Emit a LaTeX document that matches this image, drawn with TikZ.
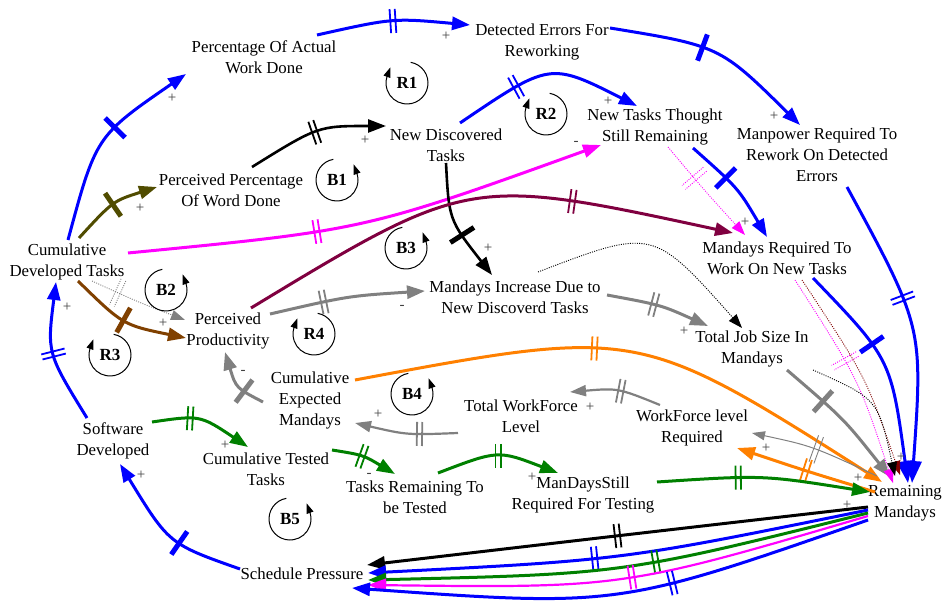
\documentclass[tikz,border=0pt]{standalone}
\usepackage{fontspec}
\setmainfont{Liberation Serif}
\usetikzlibrary{arrows.meta,decorations.markings}
\definecolor{cBlue}{RGB}{0,0,255}
\definecolor{cOlive}{RGB}{80,76,0}
\definecolor{cMag}{RGB}{255,0,255}
\definecolor{cMaroon}{RGB}{128,0,64}
\definecolor{cGray}{RGB}{128,128,128}
\definecolor{cBrown}{RGB}{128,64,0}
\definecolor{cOrange}{RGB}{255,128,0}
\definecolor{cGreen}{RGB}{0,128,0}
\definecolor{cDkRed}{RGB}{128,0,0}
\definecolor{cSign}{RGB}{64,64,64}
\begin{document}
\begin{tikzpicture}[x=1pt, y=-1pt,
  lbl/.style={align=center, inner sep=1pt, font=\fontsize{16.8}{21}\selectfont},
  sgn/.style={text=cSign, inner sep=0pt, font=\fontsize{15}{15}\selectfont},
  lid/.style={inner sep=0pt, font=\fontsize{17}{17}\selectfont\bfseries},
  lnk/.style={line width=3pt, -{Triangle[length=18pt,width=13pt]}},
  mlnk/.style={line width=2.2pt, -{Triangle[length=16pt,width=11pt]}},
  hlnk/.style={line width=1pt, -{Triangle[length=13pt,width=9pt]}},
  dlnk/.style={line width=0.9pt, dash pattern=on 1pt off 1.3pt, -{Triangle[length=14pt,width=10pt]}},
  dly/.style={postaction={decorate, decoration={markings, mark=at position #1 with {\draw[-, line width=1.8pt] (-2.6,-12) -- (-2.6,12) (2.6,-12) -- (2.6,12);}}}},
  hdly/.style={postaction={decorate, decoration={markings, mark=at position #1 with {\draw[-, line width=0.9pt] (-2.6,-14) -- (-2.6,14) (2.6,-14) -- (2.6,14);}}}},
  sbar/.style={postaction={decorate, decoration={markings, mark=at position #1 with {\draw[-, line width=5pt] (0,-14) -- (0,14);}}}},
  ring/.style={line width=1pt, black},
  ringtip/.style={line width=1pt, black, -{Triangle[length=10pt,width=7pt]}},
]
\useasboundingbox (0,0) rectangle (942,609);

% ---- variables ----
\node[lbl] (pawd) at (264,57) {Percentage Of Actual\\Work Done};
\node[lbl] (defr) at (542,42) {Detected Errors For\\Reworking};
\node[lbl] (ndt) at (446,145) {New Discovered\\Tasks};
\node[lbl] (nttsr) at (655,127) {New Tasks Thought\\Still Remaining};
\node[lbl] (mrrde) at (817,155) {Manpower Required To\\Rework On Detected\\Errors};
\node[lbl] (ppwd) at (231,190) {Perceived Percentage\\Of Word Done};
\node[lbl] (cdt) at (67,262) {Cumulative\\Developed Tasks};
\node[lbl] (mrwnt) at (777,258) {Mandays Required To\\Work On New Tasks};
\node[lbl] (midnt) at (515,297) {Mandays Increase Due to\\New Discoverd Tasks};
\node[lbl] (pp) at (228,331) {Perceived\\Productivity};
\node[lbl] (tjsm) at (752,349) {Total Job Size In\\Mandays};
\node[lbl] (cem) at (310,400) {Cumulative\\Expected\\Mandays};
\node[lbl] (twl) at (521,416) {Total WorkForce\\Level};
\node[lbl] (wlr) at (692,428) {WorkForce level\\Required};
\node[lbl] (sd) at (113,441) {Software\\Developed};
\node[lbl] (ctt) at (266,469) {Cumulative Tested\\Tasks};
\node[lbl] (trtbt) at (415,497) {Tasks Remaining To\\be Tested};
\node[lbl] (mdsrft) at (583,495) {ManDaysStill\\Required For Testing};
\node[lbl] (rm) at (905,503) {Remaining\\Mandays};
\node[lbl] (sp) at (302,574) {Schedule Pressure};

% ---- causal links ----
\draw[lnk, cBlue, sbar=0.58] ([shift={(1,-22)}]cdt.center) .. controls (96,136) .. ([shift={(-78,17)}]pawd.center);
\draw[lnk, cBlue, dly=0.5] ([shift={(53,-22)}]pawd.center) .. controls (393,18) .. ([shift={(-72,-17)}]defr.center);
\draw[lnk, cBlue, sbar=0.43] ([shift={(68,-14)}]defr.center) .. controls (720,46) .. ([shift={(-17,-30)}]mrrde.center);
\draw[lnk, cBlue, dly=0.34] ([shift={(14,-22)}]ndt.center) .. controls (550,62) .. ([shift={(-18,-21)}]nttsr.center);
\draw[lnk, black, line width=2.6pt, dly=0.5] ([shift={(21,-23)}]ppwd.center) .. controls (318,126) .. ([shift={(-60,-19)}]ndt.center);
\draw[lnk, cOlive, sbar=0.5] ([shift={(12,-24)}]cdt.center) .. controls (113,201) .. ([shift={(-74,-3)}]ppwd.center);
\draw[lnk, cMag, dly=0.39] ([shift={(61,-9)}]cdt.center) .. controls (365,230) .. ([shift={(-54,18)}]nttsr.center);
\draw[lnk, black, line width=2.6pt, sbar=0.6] ([shift={(0,18)}]ndt.center) .. controls (449,220) .. ([shift={(-23,-22)}]midnt.center);
\draw[lnk, cMaroon, dly=0.68] ([shift={(23,-23)}]pp.center) .. controls (469,176) .. ([shift={(-44,-25)}]mrwnt.center);
\draw[lnk, cBlue, sbar=0.38] ([shift={(38,21)}]nttsr.center) .. controls (738,188) .. ([shift={(-10,-21)}]mrwnt.center);
\draw[dlnk, cMag, hdly=0.35] ([shift={(13,20)}]nttsr.center) .. controls (704,190) .. ([shift={(-32,-23)}]mrwnt.center);
\draw[lnk, cBlue, dly=0.4, -{Triangle[length=22pt,width=16pt]}] ([shift={(30,32)}]mrrde.center) .. controls (923,327) .. ([shift={(7,-20)}]rm.center);
\draw[lnk, cBlue, sbar=0.38, -{Triangle[length=22pt,width=16pt]}] ([shift={(36,20)}]mrwnt.center) .. controls (891,359) .. ([shift={(3,-20)}]rm.center);
\draw[lnk, cGray, dly=0.45] ([shift={(92,-2)}]midnt.center) .. controls (661,305) .. ([shift={(-44,-23)}]tjsm.center);
\draw[dlnk, black] ([shift={(23,-25)}]midnt.center) .. controls (653,228) .. ([shift={(-10,-21)}]tjsm.center);
\draw[lnk, cGray, dly=0.35] ([shift={(42,-17)}]pp.center) .. controls (348,296) .. ([shift={(-90,-6)}]midnt.center);
\draw[dlnk, cGray, hdly=0.28] ([shift={(25,19)}]cdt.center) .. controls (138,302) .. ([shift={(-43,-11)}]pp.center);
\draw[lnk, cBrown, sbar=0.48] ([shift={(11,19)}]cdt.center) .. controls (123,325) .. ([shift={(-42,7)}]pp.center);
\draw[lnk, cGray, sbar=0.33] ([shift={(-47,2)}]cem.center) .. controls (236,388) .. ([shift={(-3,21)}]pp.center);
\draw[lnk, cOrange, dly=0.43] ([shift={(45,-20)}]cem.center) .. controls (638,327) .. ([shift={(-23,-21)}]rm.center);
\draw[lnk, cOrange, dly=0.5] ([shift={(-30,-11)}]rm.center) .. controls (806,471) .. ([shift={(45,20)}]wlr.center);
\draw[hlnk, cGray, hdly=0.5] ([shift={(-28,-27)}]rm.center) .. controls (812,446) .. ([shift={(60,5)}]wlr.center);
\draw[lnk, cGray, sbar=0.32] ([shift={(35,21)}]tjsm.center) .. controls (844,419) .. ([shift={(-15,-26)}]rm.center);
\draw[mlnk, cGray, dly=0.45] ([shift={(-32,-23)}]wlr.center) .. controls (618,388) .. ([shift={(49,-24)}]twl.center);
\draw[mlnk, cGray, dly=0.37] ([shift={(-63,17)}]twl.center) .. controls (407,435) .. ([shift={(45,23)}]cem.center);
\draw[lnk, cGreen, dly=0.37] ([shift={(39,-19)}]sd.center) .. controls (200,415) .. ([shift={(-18,-22)}]ctt.center);
\draw[lnk, cGreen, dly=0.45] ([shift={(66,-19)}]ctt.center) .. controls (363,455) .. ([shift={(-20,-23)}]trtbt.center);
\draw[lnk, cGreen, dly=0.5] ([shift={(23,-24)}]trtbt.center) .. controls (498,450) .. ([shift={(-25,-22)}]mdsrft.center);
\draw[lnk, cGreen, dly=0.38] ([shift={(74,-13)}]mdsrft.center) .. controls (763,475) .. ([shift={(-35,-11)}]rm.center);
\draw[lnk, cBlue, dly=0.5] ([shift={(-26,-23)}]sd.center) .. controls (47,353) .. ([shift={(-11,20)}]cdt.center);
\draw[lnk, cBlue, sbar=0.4] ([shift={(-62,-5)}]sp.center) .. controls (169,544) .. ([shift={(7,23)}]sd.center);
\draw[lnk, black, dly=0.5] ([shift={(-37,4)}]rm.center) .. controls (624,535) .. ([shift={(65,-9)}]sp.center);
\draw[lnk, cBlue, dly=0.55] ([shift={(-37,7)}]rm.center) .. controls (623,560) .. ([shift={(66,-1)}]sp.center);
\draw[lnk, cGreen, dly=0.43] ([shift={(-37,10)}]rm.center) .. controls (623,574) .. ([shift={(66,6)}]sp.center);
\draw[lnk, cMag, line width=2.2pt, dly=0.48] ([shift={(-37,13)}]rm.center) .. controls (623,588) .. ([shift={(66,11)}]sp.center);
\draw[lnk, cBlue, dly=0.39] ([shift={(-37,17)}]rm.center) .. controls (618,607) .. ([shift={(50,14)}]sp.center);
\draw[dlnk, cMag, hdly=0.42] ([shift={(18,22)}]mrwnt.center) .. controls (859,380) .. ([shift={(-12,-20)}]rm.center);
\draw[dlnk, cDkRed] ([shift={(25,22)}]mrwnt.center) .. controls (866,377) .. ([shift={(-5,-28)}]rm.center);
\draw[dlnk, black] ([shift={(61,21)}]tjsm.center) .. controls (878,399) .. ([shift={(-10,-27)}]rm.center);

% ---- polarity signs ----
\node[sgn] (s1) at (172,98) {+};
\node[sgn] (s2) at (446,36) {+};
\node[sgn] (s3) at (774,116) {+};
\node[sgn] (s4) at (608,101) {+};
\node[sgn] (s5) at (365,140) {+};
\node[sgn] (s6) at (140,208) {+};
\node[sgn] (s7) at (576,143) {-};
\node[sgn] (s8) at (488,248) {+};
\node[sgn] (s9) at (745,222) {+};
\node[sgn] (s10) at (684,331) {+};
\node[sgn] (s11) at (402,307) {-};
\node[sgn] (s12) at (163,323) {+};
\node[sgn] (s13) at (243,372) {-};
\node[sgn] (s14) at (766,448) {+};
\node[sgn] (s15) at (590,407) {+};
\node[sgn] (s16) at (378,414) {+};
\node[sgn] (s17) at (225,445) {+};
\node[sgn] (s18) at (369,475) {-};
\node[sgn] (s19) at (532,477) {+};
\node[sgn] (s20) at (858,478) {+};
\node[sgn] (s21) at (67,307) {+};
\node[sgn] (s22) at (141,475) {+};
\node[sgn] (s23) at (847,505) {+};
\node[sgn] (s24) at (901,457) {+};

% ---- loop identifiers: ring plus a separate rising arrowhead ----
% reinforcing loops: ring runs clockwise, arrow rises on the left
\foreach \nm/\lx/\ly/\txt in {r1/407/83/R1, r2/546/114/R2, r3/110/355/R3, r4/314/334/R4}{
  \node[lid] (\nm) at (\lx,\ly) {\txt};
  \draw[ring] (\nm.center) ++(80:21pt) arc[start angle=80, end angle=-200, radius=21pt];
  \draw[ringtip] (\nm.center) ++(160:21pt) -- ++(70:9pt);
}
% balancing loops: ring runs counter-clockwise, arrow rises on the right
\foreach \nm/\lx/\ly/\txt in {b1/337/180/B1, b2/166/290/B2, b3/406/248/B3, b4/412/394/B4, b5/290/519/B5}{
  \node[lid] (\nm) at (\lx,\ly) {\txt};
  \draw[ring] (\nm.center) ++(100:21pt) arc[start angle=100, end angle=380, radius=21pt];
  \draw[ringtip] (\nm.center) ++(20:21pt) -- ++(110:9pt);
}
\end{tikzpicture}
\end{document}
